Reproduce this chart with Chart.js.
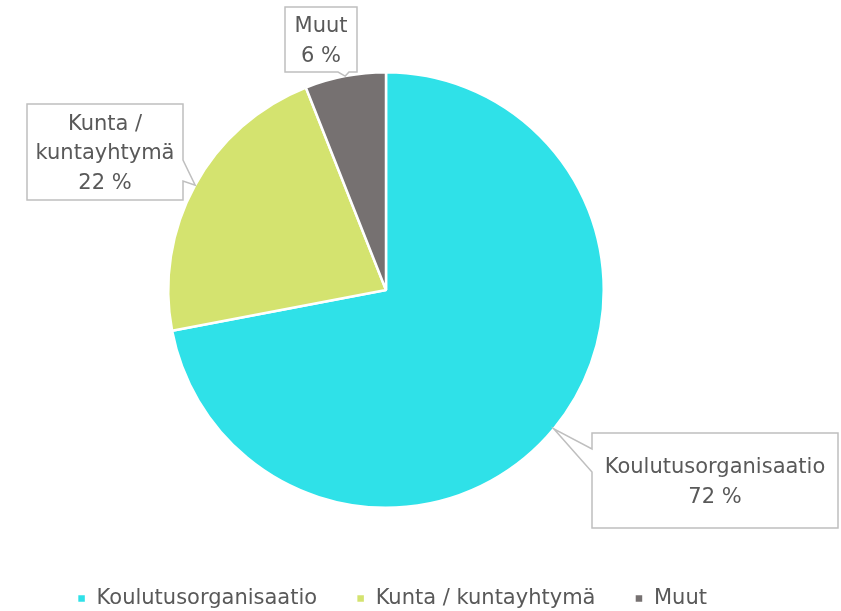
<!DOCTYPE html>
<html>
<head>
<meta charset="utf-8">
<script src="https://cdn.jsdelivr.net/npm/chart.js@4/dist/chart.umd.min.js"></script>
<style>
  html, body { margin: 0; padding: 0; background: #ffffff; overflow: hidden; }
  #wrap { width: 841px; height: 611px; }
  canvas { display: block; }
</style>
</head>
<body>
<div id="wrap"><canvas id="c" width="841" height="611"></canvas></div>
<script>
// ---- data ----
const categories = ["Koulutusorganisaatio", "Kunta / kuntayhtymä", "Muut"];
const values = [72, 22, 6];
const calloutText = [["Koulutusorganisaatio"], ["Kunta /", "kuntayhtymä"], ["Muut"]];
const colors = ["#2FE1E8", "#D4E36F", "#767171"];

const FONT = "'DejaVu Sans', sans-serif";
const TEXT = "#595959";

// callout boxes (layout), with wedge side and wedge extent along that side
const boxes = [
  { x: 592, y: 433, w: 246, h: 95, side: "left", a: 449, b: 472 },
  { x: 27, y: 104, w: 156, h: 96, side: "right", a: 160, b: 181 },
  { x: 285, y: 7, w: 72, h: 65, side: "bottom", a: 338, b: 349 }
];

const calloutPlugin = {
  id: "callouts",
  afterLayout(chart) {
    // push the legend row down to the bottom of the canvas
    const lg = chart.legend;
    if (lg) {
      const h = lg.bottom - lg.top;
      lg.top = 549;
      lg.bottom = 549 + h;
      lg.left += 6;
      lg.right += 6;
    }
  },
  afterDatasetsDraw(chart) {
    const ctx = chart.ctx;
    const meta = chart.getDatasetMeta(0);
    const total = values.reduce((s, v) => s + v, 0);
    meta.data.forEach((arc, i) => {
      const p = arc.getProps(["x", "y", "startAngle", "endAngle", "outerRadius"], true);
      const mid = (p.startAngle + p.endAngle) / 2;
      const tx = p.x + Math.cos(mid) * p.outerRadius;
      const ty = p.y + Math.sin(mid) * p.outerRadius;
      const b = boxes[i];
      const x0 = b.x, y0 = b.y, x1 = b.x + b.w, y1 = b.y + b.h;
      ctx.save();
      ctx.beginPath();
      ctx.moveTo(x0, y0);
      ctx.lineTo(x1, y0);
      if (b.side === "right") {
        ctx.lineTo(x1, b.a); ctx.lineTo(tx, ty); ctx.lineTo(x1, b.b);
      }
      ctx.lineTo(x1, y1);
      if (b.side === "bottom") {
        ctx.lineTo(b.b, y1); ctx.lineTo(tx, ty); ctx.lineTo(b.a, y1);
      }
      ctx.lineTo(x0, y1);
      if (b.side === "left") {
        ctx.lineTo(x0, b.b); ctx.lineTo(tx, ty); ctx.lineTo(x0, b.a);
      }
      ctx.closePath();
      ctx.fillStyle = "#ffffff";
      ctx.fill();
      ctx.lineWidth = 1.5;
      ctx.strokeStyle = "#BFBFBF";
      ctx.stroke();

      const lines = calloutText[i].concat([Math.round(values[i] / total * 100) + " %"]);
      ctx.fillStyle = TEXT;
      ctx.font = "21px " + FONT;
      ctx.textAlign = "center";
      ctx.textBaseline = "middle";
      const lh = 29.5;
      const cy = y0 + b.h / 2 + 2;
      lines.forEach((t, k) => {
        ctx.fillText(t, x0 + b.w / 2, cy + (k - (lines.length - 1) / 2) * lh);
      });
      ctx.restore();
    });
  }
};

new Chart(document.getElementById("c"), {
  type: "pie",
  data: {
    labels: categories,
    datasets: [{
      data: values,
      backgroundColor: colors,
      borderColor: "#ffffff",
      borderWidth: 2.5
    }]
  },
  options: {
    responsive: false,
    animation: false,
    layout: { padding: { top: 71, left: 0, right: 69, bottom: 32 } },
    plugins: {
      tooltip: { enabled: false },
      legend: {
        display: true,
        position: "bottom",
        labels: {
          boxWidth: 9,
          boxHeight: 9,
          padding: 39,
          color: TEXT,
          font: { size: 21, family: FONT }
        }
      }
    }
  },
  plugins: [calloutPlugin]
});
</script>
</body>
</html>
